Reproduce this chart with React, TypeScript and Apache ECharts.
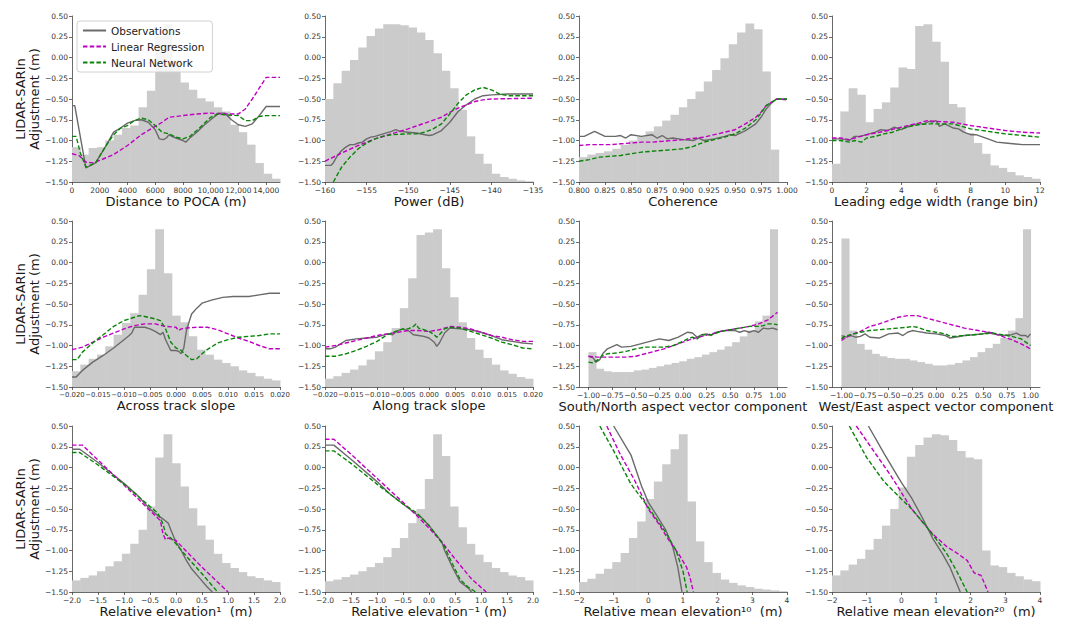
import React, { useEffect, useRef } from "react";
import * as echarts from "echarts";

// ---------------- Histogram heights (25 equal bins, drawn in y-axis units) ----------------
const POCA_HIST = [-1.08, -1.17, -1.09, -1.08, -1.0, -0.93, -0.85, -0.82, -0.6, -0.4, 0.26, 0.4, -0.03, -0.3, -0.39, -0.49, -0.53, -0.6, -0.65, -0.81, -0.9, -1.05, -1.27, -1.4, -1.46];
const POWER_HIST = [-0.5, -0.31, -0.16, -0.03, 0.12, 0.26, 0.35, 0.4, 0.4, 0.39, 0.36, 0.3, 0.21, 0.05, -0.16, -0.37, -0.63, -0.95, -1.16, -1.28, -1.4, -1.44, -1.46, -1.48, -1.49];
const COH_HIST = [-1.2, -1.17, -1.15, -1.13, -1.1, -1.05, -1.0, -0.95, -0.89, -0.83, -0.76, -0.69, -0.6, -0.5, -0.41, -0.29, -0.15, -0.01, 0.16, 0.3, 0.41, 0.34, -0.17, -1.11, -1.5];
const LEW_HIST = [-1.28, -0.65, -0.37, -0.45, -0.78, -0.62, -0.54, -0.36, -0.12, -0.14, 0.38, 0.4, 0.19, -0.05, -0.56, -0.6, -0.91, -1.03, -1.16, -1.3, -1.33, -1.38, -1.42, -1.44, -1.46];
const ACROSS_HIST = [-1.31, -1.23, -1.16, -1.11, -1.01, -0.87, -0.73, -0.61, -0.39, -0.08, 0.4, -0.13, -0.64, -0.72, -0.89, -1.05, -1.11, -1.17, -1.21, -1.25, -1.3, -1.33, -1.37, -1.4, -1.42];
const ALONG_HIST = [-1.4, -1.37, -1.33, -1.29, -1.24, -1.17, -1.07, -0.96, -0.79, -0.55, -0.19, 0.33, 0.36, 0.4, -0.07, -0.42, -0.72, -0.91, -1.05, -1.15, -1.23, -1.3, -1.34, -1.38, -1.4];
const SN_HIST = [-1.08, -1.28, -1.31, -1.32, -1.32, -1.32, -1.3, -1.29, -1.27, -1.25, -1.23, -1.21, -1.19, -1.16, -1.14, -1.11, -1.08, -1.05, -1.01, -0.96, -0.89, -0.82, -0.71, -0.64, 0.4];
const WE_HIST = [0.29, -0.82, -0.98, -1.05, -1.1, -1.13, -1.15, -1.16, -1.16, -1.18, -1.2, -1.22, -1.24, -1.24, -1.23, -1.21, -1.18, -1.14, -1.08, -1.03, -0.98, -0.91, -0.82, -0.67, 0.4];
const REL1_HIST = [-1.36, -1.33, -1.3, -1.25, -1.19, -1.13, -1.04, -0.92, -0.75, -0.47, 0.12, 0.4, 0.05, -0.23, -0.49, -0.7, -0.87, -1.04, -1.15, -1.21, -1.26, -1.31, -1.33, -1.36, -1.38];
const RELM1_HIST = [-1.37, -1.35, -1.32, -1.29, -1.25, -1.2, -1.15, -1.08, -0.97, -0.85, -0.67, -0.5, -0.14, 0.4, 0.14, -0.47, -0.72, -0.92, -1.05, -1.14, -1.21, -1.26, -1.3, -1.32, -1.36];
const MEAN10_HIST = [-1.38, -1.34, -1.28, -1.22, -1.14, -1.03, -0.85, -0.65, -0.38, -0.17, 0.04, 0.22, 0.4, -0.41, -0.89, -1.14, -1.27, -1.35, -1.39, -1.42, -1.44, -1.46, -1.47, -1.48, -1.49];
const MEAN20_HIST = [-1.3, -1.24, -1.17, -1.1, -0.99, -0.86, -0.7, -0.5, -0.24, 0.13, 0.27, 0.36, 0.4, 0.39, 0.33, 0.2, 0.12, 0.1, -1.0, -1.18, -1.2, -1.27, -1.31, -1.35, -1.37];

// ---------------- Curves: [x, adjustment] ----------------
const POCA_OBS = [[0, -0.58], [200, -0.58], [1000, -1.33], [1700, -1.27], [2500, -1.05], [3000, -0.9], [3500, -0.85], [4000, -0.79], [4500, -0.76], [5000, -0.75], [5500, -0.78], [6000, -0.87], [6300, -0.98], [6600, -0.99], [6800, -0.97], [7000, -0.93], [7200, -0.95], [7500, -0.97], [8000, -1.0], [8200, -1.02], [8500, -0.97], [9000, -0.9], [9500, -0.82], [10000, -0.75], [10600, -0.67], [11000, -0.67], [11500, -0.75], [12000, -0.81], [12500, -0.83], [13000, -0.8], [13500, -0.7], [14000, -0.59], [15000, -0.59]];
const POCA_LR = [[0, -1.16], [500, -1.18], [1000, -1.26], [1500, -1.27], [2000, -1.24], [3000, -1.17], [4000, -1.06], [5000, -0.93], [6000, -0.83], [6500, -0.78], [7000, -0.72], [7500, -0.71], [8000, -0.7], [9000, -0.68], [10000, -0.67], [11000, -0.68], [11600, -0.68], [12000, -0.68], [12500, -0.62], [13000, -0.5], [13500, -0.37], [14000, -0.24], [15000, -0.24]];
const POCA_NN = [[0, -0.95], [300, -0.95], [600, -1.15], [1000, -1.32], [1700, -1.27], [2500, -1.05], [3000, -0.93], [3500, -0.85], [4000, -0.82], [4500, -0.76], [5000, -0.73], [5500, -0.75], [6000, -0.82], [6500, -0.9], [7000, -0.92], [7500, -0.96], [8000, -0.98], [8500, -0.95], [9000, -0.88], [9500, -0.8], [10000, -0.72], [10500, -0.68], [11000, -0.69], [12000, -0.7], [12500, -0.76], [13000, -0.76], [13500, -0.71], [14000, -0.7], [15000, -0.7]];

const POWER_OBS = [[-160, -1.3], [-159.3, -1.3], [-159, -1.27], [-158.5, -1.18], [-158, -1.12], [-157.5, -1.08], [-157, -1.05], [-156.5, -1.05], [-156, -1.03], [-155.5, -1.02], [-155, -0.98], [-154.5, -0.96], [-154, -0.95], [-153, -0.92], [-152, -0.89], [-151.5, -0.87], [-151, -0.89], [-150, -0.9], [-149, -0.91], [-148, -0.93], [-147.5, -0.94], [-147, -0.93], [-146, -0.88], [-145, -0.78], [-144, -0.65], [-143, -0.57], [-142, -0.5], [-141, -0.46], [-140, -0.45], [-138, -0.44], [-135, -0.44]];
const POWER_LR = [[-160, -1.25], [-158, -1.15], [-156, -1.06], [-154, -0.98], [-152, -0.92], [-150, -0.86], [-148, -0.79], [-146, -0.72], [-145, -0.66], [-144, -0.61], [-143, -0.57], [-142, -0.53], [-141, -0.51], [-140, -0.5], [-135, -0.49]];
const POWER_NN = [[-159, -1.5], [-158, -1.32], [-157, -1.2], [-156, -1.1], [-155, -1.03], [-154, -0.98], [-153, -0.95], [-152, -0.93], [-150, -0.92], [-149, -0.92], [-148, -0.9], [-147, -0.86], [-146, -0.8], [-145, -0.68], [-144, -0.55], [-143, -0.45], [-142, -0.39], [-141, -0.36], [-140, -0.39], [-139, -0.44], [-138, -0.46], [-135, -0.46]];

const COH_OBS = [[0.8, -0.95], [0.805, -0.95], [0.815, -0.89], [0.825, -0.95], [0.835, -0.95], [0.84, -0.94], [0.845, -0.97], [0.85, -0.93], [0.86, -0.95], [0.87, -0.93], [0.875, -0.97], [0.88, -0.94], [0.885, -0.98], [0.89, -0.97], [0.9, -0.99], [0.91, -1.0], [0.915, -0.97], [0.92, -1.0], [0.93, -0.98], [0.94, -0.95], [0.945, -0.93], [0.95, -0.94], [0.96, -0.88], [0.97, -0.8], [0.975, -0.72], [0.98, -0.62], [0.985, -0.55], [0.99, -0.5], [1.0, -0.5]];
const COH_LR = [[0.8, -1.06], [0.81, -1.05], [0.82, -1.05], [0.83, -1.05], [0.84, -1.04], [0.85, -1.03], [0.86, -1.02], [0.87, -1.02], [0.88, -1.01], [0.9, -0.99], [0.92, -0.96], [0.93, -0.93], [0.94, -0.9], [0.95, -0.87], [0.96, -0.8], [0.97, -0.72], [0.975, -0.66], [0.98, -0.58], [0.99, -0.5], [1.0, -0.51]];
const COH_NN = [[0.8, -1.25], [0.81, -1.23], [0.82, -1.2], [0.83, -1.19], [0.84, -1.18], [0.85, -1.16], [0.86, -1.14], [0.87, -1.13], [0.88, -1.12], [0.89, -1.11], [0.9, -1.1], [0.91, -1.07], [0.92, -1.02], [0.93, -0.99], [0.94, -0.96], [0.95, -0.92], [0.96, -0.85], [0.97, -0.75], [0.975, -0.67], [0.98, -0.58], [0.99, -0.5], [1.0, -0.5]];

const LEW_OBS = [[0, -0.98], [0.5, -0.98], [0.8, -0.99], [1.0, -1.0], [1.3, -0.95], [1.6, -0.95], [2, -0.93], [2.5, -0.9], [2.8, -0.87], [3.2, -0.88], [3.6, -0.84], [4.0, -0.87], [4.3, -0.84], [4.7, -0.81], [5.0, -0.8], [5.3, -0.8], [5.6, -0.77], [5.8, -0.78], [6.0, -0.76], [6.2, -0.83], [6.5, -0.8], [6.8, -0.83], [7.0, -0.85], [7.3, -0.86], [7.6, -0.9], [8.0, -0.93], [8.3, -0.93], [9, -0.98], [9.5, -1.02], [10, -1.03], [11, -1.05], [12, -1.05]];
const LEW_LR = [[0, -0.97], [0.5, -0.97], [1, -0.99], [1.5, -0.96], [2, -0.93], [3, -0.89], [4, -0.84], [5, -0.79], [5.5, -0.76], [6, -0.77], [7, -0.78], [8, -0.82], [9, -0.85], [10, -0.88], [11, -0.9], [12, -0.91]];
const LEW_NN = [[0, -1.0], [0.5, -1.0], [1, -1.02], [1.3, -1.0], [1.7, -1.02], [2, -0.97], [2.5, -0.95], [3, -0.92], [3.5, -0.9], [4, -0.86], [4.5, -0.83], [5, -0.81], [5.5, -0.8], [6, -0.8], [6.5, -0.8], [7, -0.8], [7.5, -0.83], [8, -0.86], [9, -0.89], [10, -0.92], [11, -0.94], [12, -0.96]];

const ACROSS_OBS = [[-0.02, -1.38], [-0.0192, -1.38], [-0.018, -1.3], [-0.016, -1.2], [-0.014, -1.12], [-0.012, -1.03], [-0.01, -0.93], [-0.009, -0.88], [-0.0085, -0.85], [-0.008, -0.78], [-0.007, -0.78], [-0.006, -0.78], [-0.005, -0.8], [-0.004, -0.83], [-0.003, -0.87], [-0.0025, -0.84], [-0.002, -0.93], [-0.001, -1.06], [0.0, -1.06], [0.0005, -1.07], [0.001, -1.1], [0.0015, -1.03], [0.002, -0.82], [0.0025, -0.72], [0.003, -0.62], [0.004, -0.55], [0.005, -0.49], [0.007, -0.45], [0.009, -0.42], [0.011, -0.41], [0.014, -0.41], [0.016, -0.39], [0.018, -0.37], [0.02, -0.37]];
const ACROSS_LR = [[-0.02, -1.05], [-0.018, -1.02], [-0.016, -0.96], [-0.014, -0.9], [-0.012, -0.85], [-0.01, -0.8], [-0.008, -0.76], [-0.006, -0.74], [-0.004, -0.74], [-0.002, -0.77], [0.0, -0.78], [0.0005, -0.82], [0.001, -0.8], [0.002, -0.79], [0.004, -0.78], [0.006, -0.78], [0.008, -0.81], [0.01, -0.86], [0.012, -0.91], [0.014, -0.95], [0.016, -1.0], [0.018, -1.04], [0.02, -1.04]];
const ACROSS_NN = [[-0.02, -1.17], [-0.019, -1.17], [-0.018, -1.08], [-0.016, -0.97], [-0.014, -0.87], [-0.012, -0.77], [-0.01, -0.7], [-0.008, -0.66], [-0.007, -0.64], [-0.006, -0.65], [-0.004, -0.68], [-0.003, -0.7], [-0.002, -0.8], [-0.001, -0.96], [0.0, -1.03], [0.001, -1.06], [0.002, -1.12], [0.003, -1.17], [0.004, -1.16], [0.005, -1.1], [0.006, -1.05], [0.008, -0.97], [0.01, -0.93], [0.012, -0.9], [0.014, -0.89], [0.016, -0.88], [0.018, -0.86], [0.02, -0.86]];

const ALONG_OBS = [[-0.02, -1.04], [-0.019, -1.04], [-0.018, -1.02], [-0.016, -0.94], [-0.014, -0.92], [-0.012, -0.91], [-0.01, -0.9], [-0.008, -0.86], [-0.007, -0.87], [-0.006, -0.82], [-0.005, -0.8], [-0.004, -0.82], [-0.003, -0.87], [-0.002, -0.88], [-0.001, -0.89], [0.0, -0.91], [0.001, -0.96], [0.0015, -1.01], [0.002, -0.97], [0.003, -0.85], [0.004, -0.79], [0.006, -0.8], [0.008, -0.81], [0.01, -0.84], [0.012, -0.88], [0.014, -0.93], [0.016, -0.95], [0.018, -0.97], [0.02, -0.98]];
const ALONG_LR = [[-0.02, -1.02], [-0.018, -1.0], [-0.016, -0.97], [-0.014, -0.94], [-0.012, -0.91], [-0.01, -0.88], [-0.008, -0.86], [-0.006, -0.84], [-0.004, -0.82], [-0.002, -0.82], [0.0, -0.83], [0.002, -0.81], [0.004, -0.77], [0.006, -0.78], [0.008, -0.8], [0.01, -0.84], [0.012, -0.88], [0.014, -0.9], [0.016, -0.93], [0.018, -0.95], [0.02, -0.95]];
const ALONG_NN = [[-0.02, -1.13], [-0.018, -1.13], [-0.016, -1.1], [-0.014, -1.06], [-0.012, -1.01], [-0.01, -0.95], [-0.008, -0.87], [-0.006, -0.82], [-0.005, -0.8], [-0.004, -0.8], [-0.003, -0.77], [-0.0025, -0.74], [-0.002, -0.79], [0.0, -0.83], [0.001, -0.87], [0.0015, -0.9], [0.002, -0.87], [0.003, -0.8], [0.004, -0.78], [0.006, -0.79], [0.008, -0.83], [0.01, -0.87], [0.012, -0.91], [0.014, -0.96], [0.016, -0.99], [0.018, -1.03], [0.02, -1.04]];

const SN_OBS = [[-1.0, -1.13], [-0.95, -1.15], [-0.92, -1.2], [-0.88, -1.17], [-0.85, -1.1], [-0.8, -1.04], [-0.7, -0.99], [-0.65, -1.02], [-0.55, -1.01], [-0.45, -0.98], [-0.35, -0.95], [-0.25, -0.92], [-0.15, -0.94], [-0.05, -0.9], [0.05, -0.84], [0.1, -0.85], [0.15, -0.9], [0.2, -0.87], [0.25, -0.86], [0.3, -0.88], [0.35, -0.84], [0.45, -0.82], [0.55, -0.82], [0.6, -0.84], [0.65, -0.82], [0.7, -0.84], [0.75, -0.82], [0.8, -0.84], [0.85, -0.79], [0.9, -0.8], [0.95, -0.79], [1.0, -0.81]];
const SN_LR = [[-1.0, -1.13], [-0.9, -1.14], [-0.8, -1.14], [-0.7, -1.14], [-0.6, -1.14], [-0.5, -1.13], [-0.4, -1.1], [-0.3, -1.07], [-0.2, -1.04], [-0.1, -1.0], [0.0, -0.96], [0.1, -0.92], [0.2, -0.89], [0.3, -0.86], [0.4, -0.83], [0.5, -0.81], [0.6, -0.79], [0.7, -0.77], [0.8, -0.74], [0.9, -0.69], [1.0, -0.6]];
const SN_NN = [[-1.0, -1.2], [-0.95, -1.21], [-0.9, -1.17], [-0.85, -1.12], [-0.8, -1.1], [-0.7, -1.09], [-0.6, -1.07], [-0.5, -1.04], [-0.4, -1.02], [-0.3, -1.02], [-0.2, -1.02], [-0.1, -1.0], [0.0, -0.95], [0.05, -0.92], [0.1, -0.9], [0.15, -0.92], [0.2, -0.87], [0.25, -0.87], [0.3, -0.87], [0.4, -0.83], [0.5, -0.81], [0.6, -0.79], [0.7, -0.77], [0.8, -0.77], [0.85, -0.76], [0.9, -0.74], [0.95, -0.74], [1.0, -0.75]];

const WE_OBS = [[-1.0, -0.88], [-0.95, -0.9], [-0.9, -0.88], [-0.85, -0.9], [-0.8, -0.89], [-0.75, -0.86], [-0.7, -0.9], [-0.6, -0.91], [-0.5, -0.86], [-0.4, -0.85], [-0.35, -0.88], [-0.3, -0.84], [-0.25, -0.82], [-0.2, -0.83], [-0.1, -0.85], [0.0, -0.86], [0.1, -0.88], [0.15, -0.91], [0.2, -0.9], [0.3, -0.88], [0.4, -0.87], [0.5, -0.86], [0.55, -0.84], [0.6, -0.86], [0.7, -0.88], [0.8, -0.87], [0.85, -0.85], [0.9, -0.88], [0.95, -0.88], [0.97, -0.9], [1.0, -0.86]];
const WE_LR = [[-1.0, -0.94], [-0.95, -0.9], [-0.9, -0.87], [-0.8, -0.83], [-0.7, -0.77], [-0.6, -0.74], [-0.5, -0.7], [-0.4, -0.66], [-0.3, -0.64], [-0.2, -0.64], [-0.1, -0.67], [0.0, -0.7], [0.1, -0.73], [0.2, -0.76], [0.3, -0.79], [0.4, -0.81], [0.5, -0.83], [0.6, -0.85], [0.7, -0.89], [0.8, -0.93], [0.9, -0.98], [1.0, -1.04]];
const WE_NN = [[-1.0, -0.92], [-0.97, -0.89], [-0.9, -0.87], [-0.8, -0.84], [-0.7, -0.82], [-0.6, -0.81], [-0.5, -0.8], [-0.4, -0.79], [-0.3, -0.78], [-0.25, -0.77], [-0.2, -0.78], [-0.1, -0.82], [0.0, -0.84], [0.1, -0.86], [0.15, -0.89], [0.2, -0.89], [0.3, -0.88], [0.4, -0.87], [0.5, -0.86], [0.6, -0.85], [0.7, -0.87], [0.8, -0.89], [0.9, -0.92], [1.0, -1.0]];

const REL1_OBS = [[-2, 0.22], [-1.85, 0.22], [-1.5, 0.06], [-1.0, -0.19], [-0.75, -0.33], [-0.5, -0.5], [-0.35, -0.58], [-0.25, -0.62], [-0.15, -0.67], [-0.1, -0.75], [0.0, -0.9], [0.1, -1.0], [0.2, -1.12], [0.3, -1.22], [0.45, -1.33], [0.6, -1.44], [0.7, -1.5]];
const REL1_LR = [[-2, 0.27], [-1.8, 0.27], [-1.5, 0.09], [-1.0, -0.21], [-0.5, -0.52], [-0.3, -0.64], [-0.25, -0.8], [-0.2, -0.87], [-0.15, -0.85], [0.0, -0.88], [0.2, -1.01], [0.5, -1.2], [0.8, -1.38], [1.0, -1.5]];
const REL1_NN = [[-2, 0.18], [-1.85, 0.18], [-1.5, 0.03], [-1.0, -0.2], [-0.5, -0.47], [-0.35, -0.55], [-0.25, -0.68], [-0.2, -0.8], [-0.1, -0.85], [0.0, -0.92], [0.2, -1.07], [0.5, -1.28], [0.8, -1.5]];

const RELM1_OBS = [[-2, 0.27], [-1.83, 0.27], [-1.5, 0.1], [-1.0, -0.17], [-0.75, -0.32], [-0.5, -0.44], [-0.25, -0.56], [-0.15, -0.6], [0.0, -0.7], [0.15, -0.82], [0.25, -0.9], [0.3, -1.0], [0.45, -1.2], [0.6, -1.38], [0.75, -1.45], [0.82, -1.5]];
const RELM1_LR = [[-2, 0.34], [-1.83, 0.34], [-1.5, 0.16], [-1.0, -0.13], [-0.5, -0.42], [-0.25, -0.57], [0.0, -0.73], [0.25, -0.9], [0.5, -1.1], [0.8, -1.33], [1.1, -1.5]];
const RELM1_NN = [[-2, 0.2], [-1.83, 0.2], [-1.5, 0.05], [-1.0, -0.2], [-0.5, -0.44], [-0.25, -0.54], [-0.15, -0.6], [0.0, -0.7], [0.15, -0.82], [0.3, -0.96], [0.45, -1.16], [0.6, -1.35], [0.75, -1.44], [0.9, -1.5]];

const MEAN10_OBS = [[-1.0, 0.5], [-0.5, 0.15], [-0.2, -0.22], [0.0, -0.42], [0.2, -0.55], [0.5, -0.75], [0.7, -0.95], [0.85, -1.2], [0.95, -1.45], [0.97, -1.5]];
const MEAN10_LR = [[-1.2, 0.5], [-0.8, 0.15], [-0.4, -0.15], [0.0, -0.5], [0.3, -0.68], [0.6, -0.88], [0.9, -1.06], [1.1, -1.2], [1.2, -1.32], [1.3, -1.5]];
const MEAN10_NN = [[-1.4, 0.5], [-1.0, 0.2], [-0.5, -0.2], [0.0, -0.48], [0.5, -0.78], [0.8, -1.0], [1.0, -1.25], [1.12, -1.5]];

const MEAN20_OBS = [[-0.95, 0.5], [-0.5, 0.17], [-0.2, -0.04], [0.0, -0.18], [0.3, -0.37], [0.6, -0.6], [0.9, -0.85], [1.2, -1.05], [1.4, -1.2], [1.55, -1.35], [1.7, -1.5]];
const MEAN20_LR = [[-1.3, 0.5], [-0.8, 0.2], [-0.3, -0.1], [0.0, -0.3], [0.3, -0.5], [0.6, -0.65], [0.9, -0.8], [1.3, -0.95], [1.6, -1.03], [1.9, -1.12], [2.1, -1.27], [2.3, -1.3], [2.5, -1.5]];
const MEAN20_NN = [[-1.5, 0.5], [-1.0, 0.12], [-0.5, -0.17], [0.0, -0.38], [0.3, -0.5], [0.7, -0.7], [1.0, -0.86], [1.3, -1.03], [1.6, -1.25], [1.9, -1.5]];

// ---------------- Tick values ----------------
const POCA_TICKS = [0, 2000, 4000, 6000, 8000, 10000, 12000, 14000];
const POWER_TICKS = [-160, -155, -150, -145, -140, -135];
const COH_TICKS = [0.8, 0.825, 0.85, 0.875, 0.9, 0.925, 0.95, 0.975, 1.0];
const LEW_TICKS = [0, 2, 4, 6, 8, 10, 12];
const SLOPE_TICKS = [-0.02, -0.015, -0.01, -0.005, 0, 0.005, 0.01, 0.015, 0.02];
const ASPECT_TICKS = [-1, -0.75, -0.5, -0.25, 0, 0.25, 0.5, 0.75, 1];
const REL_TICKS = [-2, -1.5, -1, -0.5, 0, 0.5, 1, 1.5, 2];
const MEAN_TICKS = [-2, -1, 0, 1, 2, 3, 4];
const Y_TICKS = [-1.5, -1.25, -1, -0.75, -0.5, -0.25, 0, 0.25, 0.5];

const SERIES_NAMES = ["Observations", "Linear Regression", "Neural Network"];
const Y_TITLE = "LIDAR-SARIn\nAdjustment (m)";

const minusFix = (v: number, d: number) => {
  const x = Math.abs(v) < 1e-12 ? 0 : v;
  return x.toFixed(d).replace("-", "\u2212");
};
const fixed = (d: number) => (v: number) => minusFix(v, d);
const pocaFmt = (v: number) => (v >= 10000 ? Math.round(v).toLocaleString("en-US") : String(Math.round(v)));

const PANELS = [
  { title: "Distance to POCA (m)", xMin: 0, xMax: 15000, ticks: POCA_TICKS, fmt: pocaFmt, fs: 7.5, hLo: 0, hHi: 15000, hist: POCA_HIST, obs: POCA_OBS, lr: POCA_LR, nn: POCA_NN },
  { title: "Power (dB)", xMin: -160, xMax: -135, ticks: POWER_TICKS, fmt: fixed(0), fs: 7.5, hLo: -160, hHi: -135, hist: POWER_HIST, obs: POWER_OBS, lr: POWER_LR, nn: POWER_NN },
  { title: "Coherence", xMin: 0.8, xMax: 1.0, ticks: COH_TICKS, fmt: fixed(3), fs: 7.5, hLo: 0.8, hHi: 1.0, hist: COH_HIST, obs: COH_OBS, lr: COH_LR, nn: COH_NN },
  { title: "Leading edge width (range bin)", xMin: 0, xMax: 12, ticks: LEW_TICKS, fmt: fixed(0), fs: 7.5, hLo: 0, hHi: 12, hist: LEW_HIST, obs: LEW_OBS, lr: LEW_LR, nn: LEW_NN },
  { title: "Across track slope", xMin: -0.02, xMax: 0.02, ticks: SLOPE_TICKS, fmt: fixed(3), fs: 6.9, hLo: -0.02, hHi: 0.02, hist: ACROSS_HIST, obs: ACROSS_OBS, lr: ACROSS_LR, nn: ACROSS_NN },
  { title: "Along track slope", xMin: -0.02, xMax: 0.02, ticks: SLOPE_TICKS, fmt: fixed(3), fs: 6.9, hLo: -0.02, hHi: 0.02, hist: ALONG_HIST, obs: ALONG_OBS, lr: ALONG_LR, nn: ALONG_NN },
  { title: "South/North aspect vector component", xMin: -1.1, xMax: 1.1, ticks: ASPECT_TICKS, fmt: fixed(2), fs: 7.5, hLo: -1, hHi: 1, hist: SN_HIST, obs: SN_OBS, lr: SN_LR, nn: SN_NN },
  { title: "West/East aspect vector component", xMin: -1.1, xMax: 1.1, ticks: ASPECT_TICKS, fmt: fixed(2), fs: 7.5, hLo: -1, hHi: 1, hist: WE_HIST, obs: WE_OBS, lr: WE_LR, nn: WE_NN },
  { title: "Relative elevation\u00b9  (m)", xMin: -2, xMax: 2, ticks: REL_TICKS, fmt: fixed(1), fs: 7.5, hLo: -2, hHi: 2, hist: REL1_HIST, obs: REL1_OBS, lr: REL1_LR, nn: REL1_NN },
  { title: "Relative elevation\u207b\u00b9 (m)", xMin: -2, xMax: 2, ticks: REL_TICKS, fmt: fixed(1), fs: 7.5, hLo: -2, hHi: 2, hist: RELM1_HIST, obs: RELM1_OBS, lr: RELM1_LR, nn: RELM1_NN },
  { title: "Relative mean elevation\u00b9\u2070  (m)", xMin: -2, xMax: 4, ticks: MEAN_TICKS, fmt: fixed(0), fs: 7.5, hLo: -2, hHi: 4, hist: MEAN10_HIST, obs: MEAN10_OBS, lr: MEAN10_LR, nn: MEAN10_NN },
  { title: "Relative mean elevation\u00b2\u2070  (m)", xMin: -2, xMax: 4, ticks: MEAN_TICKS, fmt: fixed(0), fs: 7.5, hLo: -2, hHi: 4, hist: MEAN20_HIST, obs: MEAN20_OBS, lr: MEAN20_LR, nn: MEAN20_NN },
];

// ---------------- Layout & style ----------------
const COL_LEFT = [72, 325, 579, 832];
const ROW_TOP = [16, 221, 426];
const PW = 208;
const PH = 166;
const FONT = "DejaVu Sans";
const HIST_COLOR = "#cbcbcb";
const AXIS_COLOR = "#444";
const COLORS = { obs: "#6a6a6a", lr: "#c000c0", nn: "#0a850a" };

export default function App() {
  const ref = useRef<HTMLDivElement>(null);

  useEffect(() => {
    if (!ref.current) return;
    const chart = echarts.init(ref.current, undefined, { renderer: "svg" });

    const grids = PANELS.map((_, i) => ({
      left: COL_LEFT[i % 4],
      top: ROW_TOP[Math.floor(i / 4)],
      width: PW,
      height: PH,
      containLabel: false,
      outerBoundsMode: "none",
    }));

    const xAxes = PANELS.map((p, i) => ({
      type: "value",
      gridIndex: i,
      min: p.xMin,
      max: p.xMax,
      name: p.title,
      nameLocation: "middle",
      nameGap: 12,
      nameTextStyle: { fontSize: 13, color: "#1a1a1a", fontFamily: FONT },
      axisLine: { show: true, onZero: false, lineStyle: { color: AXIS_COLOR, width: 0.8 } },
      axisTick: { show: true, length: 3, lineStyle: { color: AXIS_COLOR, width: 0.8 }, customValues: p.ticks },
      axisLabel: {
        fontSize: p.fs, color: "#333", margin: 4, fontFamily: FONT,
        customValues: p.ticks, formatter: p.fmt,
        showMinLabel: true, showMaxLabel: true, hideOverlap: false,
      },
      splitLine: { show: false },
    }));

    const yAxes = PANELS.map((_, i) => ({
      type: "value",
      gridIndex: i,
      min: -1.5,
      max: 0.5,
      interval: 0.25,
      name: i % 4 === 0 ? Y_TITLE : "",
      nameLocation: "middle",
      nameGap: 30,
      nameRotate: 90,
      nameTextStyle: { fontSize: 13, color: "#1a1a1a", fontFamily: FONT, lineHeight: 14 },
      axisLine: { show: true, onZero: false, lineStyle: { color: AXIS_COLOR, width: 0.8 } },
      axisTick: { show: true, length: 3, lineStyle: { color: AXIS_COLOR, width: 0.8 }, customValues: Y_TICKS },
      axisLabel: {
        fontSize: 7.5, color: "#333", margin: 4, fontFamily: FONT,
        customValues: Y_TICKS, formatter: fixed(2),
        showMinLabel: true, showMaxLabel: true,
      },
      splitLine: { show: false },
    }));

    const series: any[] = [];
    PANELS.forEach((p, i) => {
      const n = p.hist.length;
      const w = (p.hHi - p.hLo) / n;
      const histData = p.hist.map((h, k) => [p.hLo + k * w, p.hLo + (k + 1) * w, h]);
      series.push({
        type: "custom",
        xAxisIndex: i,
        yAxisIndex: i,
        silent: true,
        z: 1,
        encode: { x: [0, 1], y: 2 },
        data: histData,
        renderItem: (_params: any, api: any) => {
          const a = api.coord([api.value(0), api.value(2)]);
          const b = api.coord([api.value(1), -1.5]);
          return {
            type: "rect",
            shape: { x: a[0], y: a[1], width: b[0] - a[0] + 0.5, height: b[1] - a[1] },
            style: { fill: HIST_COLOR },
          };
        },
      });
      const mk = (name: string, data: number[][], color: string, dashed: boolean, z: number) => ({
        type: "line",
        name,
        xAxisIndex: i,
        yAxisIndex: i,
        data,
        symbol: "none",
        showSymbol: false,
        silent: true,
        z,
        clip: true,
        lineStyle: { color, width: 1.4, type: dashed ? [4.5, 2.2] : "solid" },
        itemStyle: { color },
      });
      series.push(mk(SERIES_NAMES[0], p.obs, COLORS.obs, false, 2));
      series.push(mk(SERIES_NAMES[1], p.lr, COLORS.lr, true, 3));
      series.push(mk(SERIES_NAMES[2], p.nn, COLORS.nn, true, 4));
    });

    chart.setOption({
      animation: false,
      backgroundColor: "#ffffff",
      textStyle: { fontFamily: FONT },
      legend: {
        data: SERIES_NAMES,
        orient: "vertical",
        left: 77,
        top: 21,
        itemWidth: 23,
        itemHeight: 11,
        itemGap: 5,
        padding: [4, 8, 4, 5],
        backgroundColor: "rgba(255,255,255,0.8)",
        borderColor: "#d0d0d0",
        borderWidth: 1,
        borderRadius: 3,
        itemStyle: { opacity: 0 },
        textStyle: { fontSize: 10.5, color: "#222", fontFamily: FONT },
      },
      grid: grids,
      xAxis: xAxes,
      yAxis: yAxes,
      series,
    });

    return () => chart.dispose();
  }, []);

  return (
    <div
      ref={ref}
      style={{ position: "fixed", left: 0, top: 0, width: 1068, height: 623, background: "#fff" }}
    />
  );
}
